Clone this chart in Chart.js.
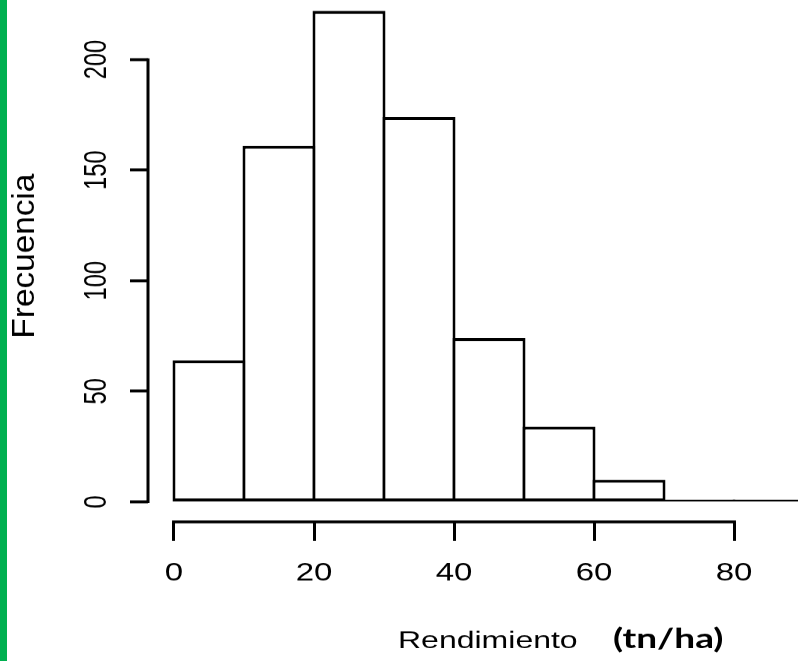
<!DOCTYPE html>
<html>
<head>
<meta charset="utf-8">
<title>Rendimiento</title>
<script src="https://cdn.jsdelivr.net/npm/chart.js@4.4.1/dist/chart.umd.min.js"></script>
<style>
  html, body { margin: 0; padding: 0; background: #fff; }
  #hist { display: block; }
</style>
</head>
<body>
<!-- drawn taller, then squeezed to the page height like the R export -->
<canvas id="hist" width="798" height="870" style="width:798px;height:661px"></canvas>
<script>
// histogram bins (tn/ha) and counts
const binStarts = [0, 10, 20, 30, 40, 50, 60, 70, 80]
const counts = [64, 161, 222, 174, 74, 34, 10, 1, 1]
const binWidth = 10
const xTicks = [0, 20, 40, 60, 80]
const yTicks = [0, 50, 100, 150, 200]

const FONT = '"Liberation Sans", Arial, Helvetica, sans-serif'
const VLINE = 3     // vertical strokes
const HLINE = 3.9   // horizontal strokes (thinned by the squeeze)

Chart.defaults.color = '#000'
Chart.defaults.font.family = FONT

// R style axes: the axis line only runs between the outer ticks
const rAxes = {
    id: 'rAxes',
    beforeDraw(chart) {
        const ctx = chart.ctx
        ctx.save()
        ctx.fillStyle = '#00b050'
        ctx.fillRect(0, 0, 7, chart.height)
        ctx.restore()
    },
    afterDraw(chart) {
        const {ctx, chartArea, scales} = chart
        const x = scales.x, y = scales.y
        ctx.save()
        ctx.strokeStyle = '#000'
        ctx.lineCap = 'square'

        ctx.lineWidth = VLINE
        ctx.beginPath()
        ctx.moveTo(chartArea.left, y.getPixelForValue(yTicks[0]))
        ctx.lineTo(chartArea.left, y.getPixelForValue(yTicks[yTicks.length - 1]))
        ctx.stroke()

        ctx.lineWidth = HLINE
        ctx.beginPath()
        ctx.moveTo(x.getPixelForValue(xTicks[0]), chartArea.bottom)
        ctx.lineTo(x.getPixelForValue(xTicks[xTicks.length - 1]), chartArea.bottom)
        ctx.stroke()

        ctx.fillStyle = '#000'
        ctx.textAlign = 'left'
        ctx.textBaseline = 'alphabetic'

        // x axis title, units added in bold
        ctx.font = '32px ' + FONT
        ctx.fillText('Rendimiento', 398, 853)
        ctx.font = 'bold 37px Lato, "Open Sans", sans-serif'
        ctx.fillText('(tn/ha)', 613, 853)

        // y axis title, stretched along its length
        ctx.translate(25, 337)
        ctx.rotate(-Math.PI / 2)
        ctx.scale(1.37, 1)
        ctx.textAlign = 'center'
        ctx.textBaseline = 'middle'
        ctx.font = '32px ' + FONT
        ctx.fillText('Frecuencia', 0, 0)
        ctx.restore()
    }
}

const points = binStarts.map((s, i) => ({x: s + binWidth / 2, y: counts[i]}))

new Chart(document.getElementById('hist'), {
    type: 'bar',
    data: {
        datasets: [{
            data: points,
            backgroundColor: '#fff',
            borderColor: '#000',
            borderWidth: {top: HLINE, bottom: HLINE, left: VLINE, right: VLINE},
            borderSkipped: false,
            inflateAmount: 0,
            // neighbouring bars overlap by one stroke so shared edges stay single
            barPercentage: (70 + VLINE) / 70,
            categoryPercentage: 1
        }]
    },
    options: {
        responsive: false,
        maintainAspectRatio: false,
        devicePixelRatio: 1,
        animation: false,
        layout: {padding: 0},
        plugins: {legend: {display: false}, tooltip: {enabled: false}},
        scales: {
            x: {
                type: 'linear',
                min: -3.714,
                max: 89.14,
                offset: false,
                afterBuildTicks: s => { s.ticks = xTicks.map(v => ({value: v})) },
                afterFit: s => {
                    s.height = 183.16
                    s.paddingLeft = 0
                    s.paddingRight = 0
                },
                border: {display: false},
                grid: {
                    offset: false,
                    drawOnChartArea: false,
                    drawTicks: true,
                    tickLength: 25,
                    tickWidth: VLINE,
                    tickColor: '#000'
                },
                ticks: {
                    autoSkip: false,
                    maxRotation: 0,
                    padding: 23,
                    font: {size: 33}
                }
            },
            y: {
                min: -9.04,
                max: 226.9,
                afterBuildTicks: s => { s.ticks = yTicks.map(v => ({value: v})) },
                afterFit: s => {
                    s.width = 148
                    s.paddingTop = 0
                    s.paddingBottom = 0
                },
                border: {display: false},
                grid: {
                    drawOnChartArea: false,
                    drawTicks: true,
                    tickLength: 18,
                    tickWidth: HLINE,
                    tickColor: '#000'
                },
                ticks: {
                    autoSkip: false,
                    minRotation: 90,
                    maxRotation: 90,
                    crossAlign: 'center',
                    padding: 7,
                    font: {size: 31}
                }
            }
        }
    },
    plugins: [rAxes]
})
</script>
</body>
</html>
